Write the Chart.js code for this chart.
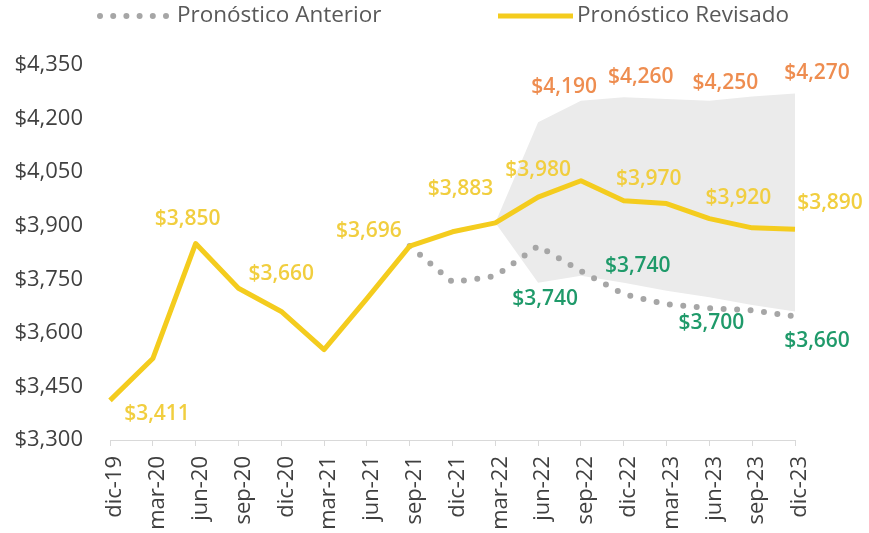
<!DOCTYPE html>
<html>
<head>
<meta charset="utf-8">
<script src="https://cdn.jsdelivr.net/npm/chart.js@4.4.1/dist/chart.umd.min.js"></script>
<style>
  html, body { margin: 0; padding: 0; background: #fff; }
  #wrap { width: 869px; height: 533px; }
</style>
</head>
<body>
<div id="wrap"><canvas id="myChart" width="869" height="533"></canvas></div>
<script>
var labels = ["dic-19", "mar-20", "jun-20", "sep-20", "dic-20", "mar-21", "jun-21", "sep-21", "dic-21",
  "mar-22", "jun-22", "sep-22", "dic-22", "mar-23", "jun-23", "sep-23", "dic-23"];

// Pronóstico Revisado
var revisado = [3411, 3528, 3850, 3725, 3660, 3553, 3696, 3843, 3883, 3908, 3980, 4026, 3970, 3962, 3920, 3894, 3890];
// Pronóstico Anterior
var anterior = [null, null, null, null, null, null, null, 3843, 3742, 3759, 3843, 3773, 3708, 3680, 3669, 3663, 3646];
// range band
var rangoAlto = [null, null, null, null, null, null, null, null, null, 3908, 4190, 4250, 4260, 4255, 4250, 4262, 4270];
var rangoBajo = [null, null, null, null, null, null, null, null, null, 3908, 3740, 3760, 3740, 3718, 3700, 3678, 3660];

var yTicks = [3300, 3450, 3600, 3750, 3900, 4050, 4200, 4350];

var fontFam = "'Open Sans', sans-serif";

function money(v) {
  return "$" + v.toLocaleString("en-US");
}

// value labels, offsets are [index, dx, dy] from the point
var valueLabels = {
  id: "valueLabels",
  afterDatasetsDraw: function(chart, args, opts) {
    var ctx = chart.ctx;
    opts.sets.forEach(function(s) {
      var meta = chart.getDatasetMeta(s.dataset);
      var data = chart.data.datasets[s.dataset].data;
      ctx.save();
      ctx.font = "600 21px " + fontFam;
      ctx.fillStyle = s.color;
      ctx.textAlign = "center";
      ctx.textBaseline = "middle";
      s.offsets.forEach(function(o) {
        var pt = meta.data[o[0]];
        ctx.fillText(money(data[o[0]]), pt.x + o[1], pt.y + o[2]);
      });
      ctx.restore();
    });
  }
};

// legend on top
var topLegend = {
  id: "topLegend",
  afterDraw: function(chart) {
    var ctx = chart.ctx;
    var y = 16;
    ctx.save();
    ctx.lineCap = "round";
    ctx.lineWidth = 6;
    ctx.strokeStyle = "#A6A6A6";
    ctx.setLineDash([0, 13.2]);
    ctx.beginPath();
    ctx.moveTo(100, y);
    ctx.lineTo(167, y);
    ctx.stroke();
    ctx.setLineDash([]);
    ctx.lineCap = "butt";
    ctx.lineWidth = 5;
    ctx.strokeStyle = "#F4CC1E";
    ctx.beginPath();
    ctx.moveTo(498, y);
    ctx.lineTo(573, y);
    ctx.stroke();
    ctx.font = "22.5px " + fontFam;
    ctx.fillStyle = "#595959";
    ctx.textBaseline = "middle";
    ctx.fillText("Pronóstico Anterior", 177, y);
    ctx.fillText("Pronóstico Revisado", 577, y);
    ctx.restore();
  }
};

var ctx = document.getElementById("myChart");
var myChart = new Chart(ctx, {
  type: "line",
  data: {
    labels: labels,
    datasets: [{
      label: "Pronóstico Anterior",
      data: anterior,
      borderColor: "#A6A6A6",
      borderWidth: 6,
      borderCapStyle: "round",
      borderDash: [0, 13.5],
      pointRadius: 0,
      fill: false,
      order: 2
    }, {
      label: "Pronóstico Revisado",
      data: revisado,
      borderColor: "#F4CC1E",
      borderWidth: 5,
      borderJoinStyle: "round",
      pointRadius: 0,
      fill: false,
      order: 1
    }, {
      label: "Alto",
      data: rangoAlto,
      borderWidth: 0,
      borderColor: "rgba(0,0,0,0)",
      backgroundColor: "#EBEBEB",
      pointRadius: 0,
      fill: "+1",
      order: 3
    }, {
      label: "Bajo",
      data: rangoBajo,
      borderWidth: 0,
      borderColor: "rgba(0,0,0,0)",
      pointRadius: 0,
      fill: false,
      order: 3
    }]
  },
  options: {
    responsive: false,
    animation: false,
    layout: { padding: { left: 10, right: 74, top: 65, bottom: 0 } },
    plugins: {
      legend: { display: false },
      tooltip: { enabled: false },
      valueLabels: {
        sets: [
          { dataset: 1, color: "#F1CE3F", offsets: [[0, 47, 14], [2, -8, -25], [4, 0, -37], [6, 2, -68], [8, 8, -43], [10, 0, -27], [12, 25, -22], [14, 29, -21], [16, 35, -26]] },
          { dataset: 2, color: "#EE8D50", offsets: [[10, 26, -35], [12, 17, -20], [14, 16, -18], [16, 22, -21]] },
          { dataset: 3, color: "#1F9A6A", offsets: [[10, 7, 16], [12, 14, -17], [14, 2, 26], [16, 22, 30]] }
        ]
      }
    },
    scales: {
      x: {
        offset: false,
        grid: { display: true, drawOnChartArea: false, drawTicks: true, tickLength: 6, color: "#D9D9D9" },
        border: { display: true, color: "#D9D9D9", width: 1 },
        ticks: {
          color: "#404040",
          font: { family: fontFam, size: 22 },
          minRotation: 90,
          maxRotation: 90,
          padding: 10,
          labelOffset: 5,
          autoSkip: false
        },
        afterFit: function(scale) { scale.height = 93; }
      },
      y: {
        min: 3300,
        max: 4350,
        grid: { display: false },
        border: { display: false },
        afterBuildTicks: function(scale) {
          scale.ticks = yTicks.map(function(v) { return { value: v }; });
        },
        ticks: {
          color: "#404040",
          font: { family: fontFam, size: 22 },
          padding: 19,
          callback: function(v) { return money(v); }
        },
        afterFit: function(scale) { scale.width = 100; }
      }
    }
  },
  plugins: [valueLabels, topLegend]
});
</script>
</body>
</html>
